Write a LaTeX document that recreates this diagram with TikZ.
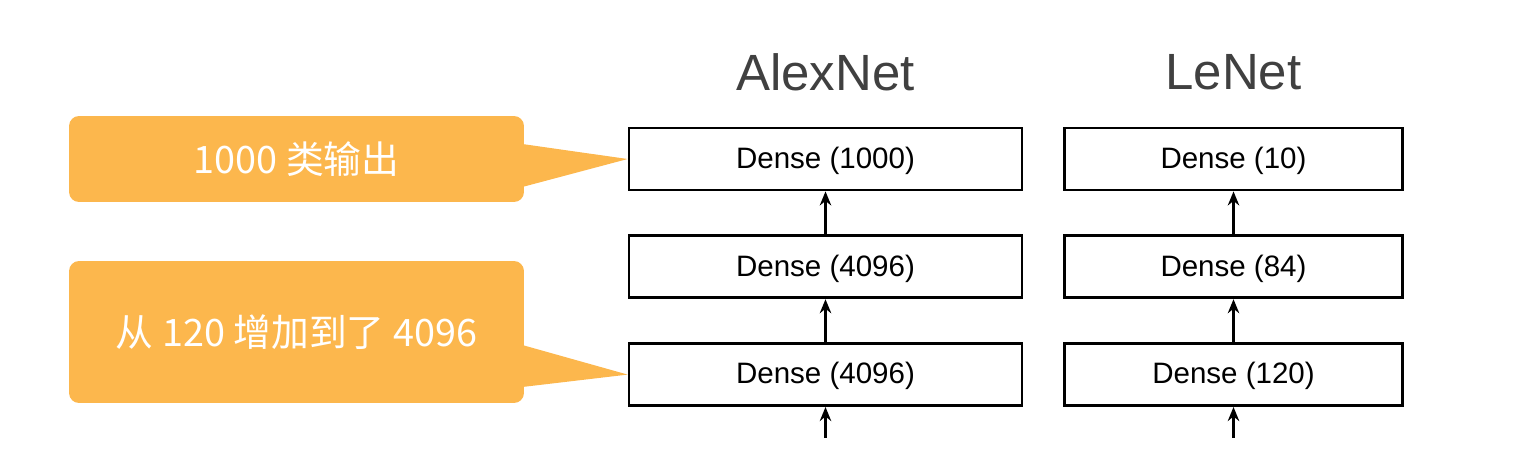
\documentclass[tikz,border=0pt]{standalone}
\usepackage{fontspec}
\setmainfont{Liberation Sans}
\newfontfamily\cjk{Noto Sans CJK SC}
\usepackage{tikz}
\usetikzlibrary{arrows.meta,positioning,calc}

\definecolor{callorange}{RGB}{252,183,77}
\definecolor{titlegray}{RGB}{64,64,64}

\begin{document}
\begin{tikzpicture}[
  x=0.02cm, y=-0.02cm,
  >={Stealth[length=8pt,width=6.5pt]},
  node distance=0.86cm,
  layer/.style={draw, line width=1.6pt, minimum height=1.24cm, inner sep=0pt, text depth=0.3ex, font=\fontsize{16.8}{20}\selectfont},
  nettitle/.style={font=\fontsize{29}{34}\selectfont, text=titlegray},
  callbox/.style={fill=callorange, rounded corners=0.2cm, minimum width=9.1cm, text=white, font=\cjk\fontsize{21.5}{26}\selectfont},
  flow/.style={->, line width=1.6pt}
]
\useasboundingbox (0,0) rectangle (1519,474);

% Left: AlexNet dense layers
\node[nettitle] (alextitle) at (825.5,72) {AlexNet};
\node[layer, minimum width=7.86cm] (a1) at (825.5,159) {Dense (1000)};
\node[layer, minimum width=7.86cm, below=of a1] (a2) {Dense (4096)};
\node[layer, minimum width=7.86cm, below=of a2] (a3) {Dense (4096)};
\coordinate[below=0.62cm of a3] (ain);

\draw[flow] (a2) -- (a1);
\draw[flow] (a3) -- (a2);
\draw[flow] (ain) -- (a3);

% Right: LeNet dense layers
\node[nettitle] (lenettitle) at (1233.5,72) {LeNet};
\node[layer, minimum width=6.76cm] (l1) at (1233.5,159) {Dense (10)};
\node[layer, minimum width=6.76cm, below=of l1] (l2) {Dense (84)};
\node[layer, minimum width=6.76cm, below=of l2] (l3) {Dense (120)};
\coordinate[below=0.62cm of l3] (lin);

\draw[flow] (l2) -- (l1);
\draw[flow] (l3) -- (l2);
\draw[flow] (lin) -- (l3);

% Callouts
\node[callbox, minimum height=1.72cm] (c1) at (296.5,159) {1000 类输出};
\fill[callorange] ($(c1.east)+(-2,-15)$) -- (a1.west) -- ($(c1.east)+(-2,28)$) -- cycle;

\node[callbox, minimum height=2.84cm] (c2) at (296.5,332) {从 120 增加到了 4096};
\fill[callorange] ($(c2.east)+(-2,13)$) -- (a3.west) -- ($(c2.east)+(-2,55)$) -- cycle;

\end{tikzpicture}
\end{document}
